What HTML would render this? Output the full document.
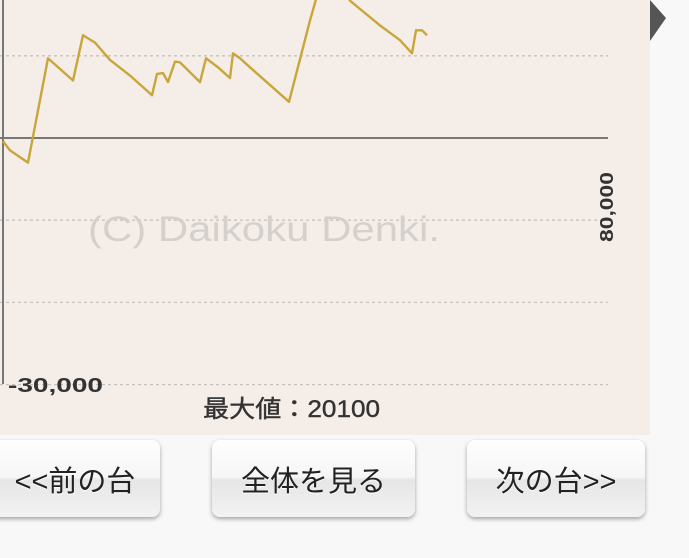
<!DOCTYPE html>
<html><head><meta charset="utf-8"><style>
body{margin:0;width:689px;height:558px;background:#f8f8f8;overflow:hidden;font-family:"Liberation Sans","Noto Sans CJK JP",sans-serif;position:relative}
#chart{position:absolute;left:0;top:0;width:650px;height:435px;background:#f4ede8}
.btn{position:absolute;top:440px;height:77px;border-radius:8px;background:linear-gradient(#fefefe 0%,#f6f6f6 48%,#e6e6e6 52%,#f2f2f2 100%);box-shadow:0 2px 4px rgba(0,0,0,.35);font-size:29px;color:#222;display:flex;align-items:center;justify-content:center;text-shadow:0 1px 1px #fff}
</style></head><body>
<div id="chart">
<svg id="svg" width="650" height="435"></svg>
</div>
<svg style="position:absolute;left:650px;top:0" width="20" height="45"><polygon points="0,0 16,18 0,41" fill="#555"/></svg>
<div class="btn" style="left:-10px;width:170px">&lt;&lt;前の台</div>
<div class="btn" style="left:212px;width:203px">全体を見る</div>
<div class="btn" style="left:467px;width:178px">次の台&gt;&gt;</div>
<script>
const games=[0,70,250,450,700,800,920,1070,1270,1490,1540,1600,1650,1720,1770,1970,2030,2150,2270,2300,2370,2470,2860,3070,3140,3300,3470,3770,3970,4090,4130,4190,4240];
const values=[-400,-1500,-3000,9700,7000,12500,11600,9500,7600,5200,7800,7900,6800,9300,9200,6800,9700,8600,7300,10300,9700,8600,4400,14300,17300,20100,16700,13700,11900,10300,13100,13100,12500];
const gridValues=[10000,-10000,-20000,-30000];
const svg=document.getElementById('svg');
const NS='http://www.w3.org/2000/svg';
function y(v){return 138-v/10000*82.2;}
function x(g){return 3+g*0.1;}
function add(tag,attrs){const e=document.createElementNS(NS,tag);for(const k in attrs)e.setAttribute(k,attrs[k]);svg.appendChild(e);return e;}
for(const g of gridValues){
 const l=add('line',{x1:0,x2:608,y1:y(g),y2:y(g),stroke:'#c8c2be','stroke-width':1.3,'stroke-dasharray':'3,3'});
 
 
}
const z=add('line',{x1:0,x2:608,y1:y(0),y2:y(0),stroke:'#777','stroke-width':2});


const ax=add('line',{x1:3,x2:3,y1:0,y2:384,stroke:'#777','stroke-width':2});


const wm=add('text',{x:88,y:241,'font-size':35,fill:'#d6d0cc',textLength:352,lengthAdjust:'spacingAndGlyphs','font-family':'Liberation Sans, sans-serif'});
wm.textContent='(C) Daikoku Denki.';


const p=add('polyline',{points:games.map((g,i)=>x(g)+','+y(values[i])).join(' '),fill:'none',stroke:'#c9a63a','stroke-width':2.4,'stroke-linejoin':'round'});


const yl=add('text',{x:8,y:392,'font-size':20,'font-weight':'bold',fill:'#333',textLength:95,lengthAdjust:'spacingAndGlyphs','font-family':'Liberation Sans, sans-serif'});
yl.textContent='-30,000';


const xl=add('text',{x:613,y:207,'font-size':18,'font-weight':'bold',fill:'#333','text-anchor':'middle',textLength:70,lengthAdjust:'spacingAndGlyphs',transform:'rotate(-90 613 207)','font-family':'Liberation Sans, sans-serif'});
xl.textContent='80,000';


const mx=add('text',{x:203,y:417,'font-size':24,fill:'#333',stroke:'#333','stroke-width':0.4,textLength:177,lengthAdjust:'spacingAndGlyphs','font-family':'Liberation Sans, Noto Sans CJK JP, sans-serif'});
mx.textContent='最大値：20100';


</script>
</body></html>
